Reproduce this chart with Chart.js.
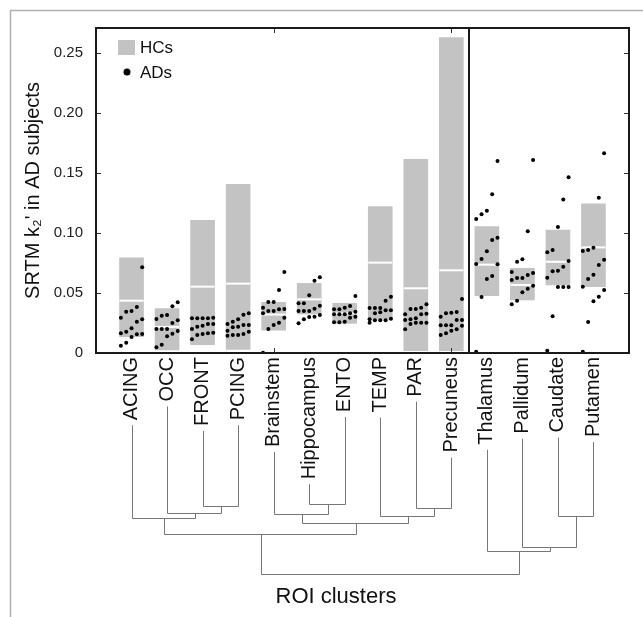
<!DOCTYPE html>
<html>
<head>
<meta charset="utf-8">
<script src="https://cdn.jsdelivr.net/npm/chart.js@4.4.1/dist/chart.umd.min.js"></script>
<style>
  html, body { margin: 0; padding: 0; background: #fff; }
</style>
</head>
<body>
<canvas id="chart" width="643" height="617"></canvas>
<script>
const categories = ['ACING', 'OCC', 'FRONT', 'PCING', 'Brainstem', 'Hippocampus', 'ENTO',
  'TEMP', 'PAR', 'Precuneus', 'Thalamus', 'Pallidum', 'Caudate', 'Putamen'];

// HC range (gray bars) and HC median (white line)
const hcLow = [0.0136, 0.0025, 0.007, 0.003, 0.019, 0.0325, 0.0247, 0.028, 0.002, 0.002, 0.0478, 0.0442, 0.0567, 0.0553];
const hcHigh = [0.0794, 0.037, 0.1106, 0.1406, 0.0422, 0.058, 0.0414, 0.122, 0.1614, 0.2628, 0.1053, 0.0706, 0.1025, 0.1242];
const hcMedian = [0.0436, 0.0217, 0.0553, 0.0578, 0.032, 0.0447, 0.033, 0.0753, 0.0539, 0.0689, 0.0736, 0.0567, 0.076, 0.088];

// AD subjects, per region, grouped in the 5 columns they are plotted in
const adValues = [
  [[0.0294, 0.0164, 0.0061], [0.0344, 0.0178, 0.0086], [0.035, 0.0206, 0.0133], [0.0383, 0.0261, 0.0156], [0.0714, 0.0281, 0.0158]],
  [[0.0283, 0.02, 0.0047], [0.0311, 0.02, 0.0069], [0.0317, 0.02, 0.0139], [0.0389, 0.025, 0.0161], [0.0422, 0.0272, 0.0183]],
  [[0.0289, 0.02, 0.0114], [0.0289, 0.0219, 0.015], [0.0289, 0.0228, 0.0158], [0.0289, 0.0242, 0.0164], [0.0294, 0.0242, 0.0169]],
  [[0.0242, 0.0186, 0.0144], [0.0261, 0.0214, 0.015], [0.0281, 0.0219, 0.015], [0.0319, 0.0233, 0.0158], [0.0331, 0.0233, 0.0178]],
  [[0.0378, 0.0331, 0.0003], [0.0425, 0.035, 0.02], [0.0425, 0.035, 0.0233], [0.0525, 0.0364, 0.0253], [0.0675, 0.0367, 0.0294]],
  [[0.0414, 0.035, 0.0247], [0.0414, 0.035, 0.0281], [0.0481, 0.035, 0.03], [0.0603, 0.0369, 0.0303], [0.0631, 0.0394, 0.0317]],
  [[0.0364, 0.0322, 0.0256], [0.0364, 0.0322, 0.0256], [0.0378, 0.0322, 0.0261], [0.0392, 0.0331, 0.0294], [0.0475, 0.0344, 0.0303]],
  [[0.0375, 0.0281, 0.0253], [0.0375, 0.0331, 0.0272], [0.0375, 0.0339, 0.0272], [0.0436, 0.0356, 0.0272], [0.0469, 0.0356, 0.0286]],
  [[0.0322, 0.0275, 0.0197], [0.0367, 0.0281, 0.0242], [0.0367, 0.0289, 0.0253], [0.0378, 0.0322, 0.0253], [0.0406, 0.0328, 0.0253]],
  [[0.0303, 0.0231, 0.015], [0.0331, 0.0231, 0.0164], [0.0336, 0.0231, 0.0186], [0.0342, 0.0275, 0.0197], [0.045, 0.0275, 0.0228]],
  [[0.1117, 0.0742, 0.0011], [0.1156, 0.0783, 0.0467], [0.1186, 0.0847, 0.0617], [0.1322, 0.0942, 0.0642], [0.16, 0.0961, 0.0739]],
  [[0.0675, 0.0608, 0.0406], [0.0761, 0.0625, 0.0436], [0.0781, 0.0625, 0.0506], [0.1014, 0.065, 0.0536], [0.1608, 0.0667, 0.0561]],
  [[0.0839, 0.0628, 0.0019], [0.0858, 0.0681, 0.0306], [0.105, 0.0686, 0.055], [0.128, 0.0719, 0.055], [0.1464, 0.0767, 0.055]],
  [[0.085, 0.0553, 0.0011], [0.0858, 0.0617, 0.0258], [0.0878, 0.0653, 0.0431], [0.1294, 0.0733, 0.0469], [0.1664, 0.0778, 0.0525]]
];

const yTicks = [0, 0.05, 0.10, 0.15, 0.20, 0.25];

// hierarchical clustering of the regions: [child a, child b, linkage distance]
// leaves are 0..13, merged clusters get ids 14, 15, ...
const linkage = [
  [2, 3, 0.19], [1, 14, 0.274], [0, 15, 0.333],
  [5, 6, 0.167], [4, 17, 0.286], [8, 9, 0.214], [7, 19, 0.31], [18, 20, 0.393],
  [16, 21, 0.524],
  [12, 13, 0.31], [11, 23, 0.679], [10, 24, 0.726],
  [22, 25, 1.0]
];

const FONT = "'Liberation Sans', Arial, sans-serif";
const columnOffsets = [-0.3, -0.15, 0, 0.15, 0.3];

const barData = categories.map((c, i) => ({ x: i, y: [hcLow[i], hcHigh[i]] }));
const medianData = categories.map((c, i) => ({ x: i, y: hcMedian[i] }));
const dotData = [];
adValues.forEach((cols, i) => {
  cols.forEach((vals, k) => {
    vals.forEach(v => dotData.push({ x: i + columnOffsets[k], y: v }));
  });
});

const extras = {
  id: 'extras',
  afterDraw(chart) {
    const { ctx, chartArea: a, scales: { x, y } } = chart;
    ctx.save();

    // outer figure border
    ctx.strokeStyle = '#b0b0b0';
    ctx.lineWidth = 1.5;
    ctx.beginPath();
    ctx.moveTo(10.5, 617); ctx.lineTo(10.5, 10.5); ctx.lineTo(643, 10.5);
    ctx.stroke();

    // inward ticks
    ctx.strokeStyle = '#333';
    ctx.lineWidth = 1;
    ctx.beginPath();
    yTicks.forEach(v => {
      const py = Math.round(y.getPixelForValue(v)) + 0.5;
      ctx.moveTo(a.left, py); ctx.lineTo(a.left + 5, py);
      ctx.moveTo(a.right - 5, py); ctx.lineTo(a.right, py);
    });
    [4, 9].forEach(i => {
      const px = Math.round(x.getPixelForValue(i)) + 0.5;
      ctx.moveTo(px, a.bottom); ctx.lineTo(px, a.bottom - 5);
      ctx.moveTo(px, a.top); ctx.lineTo(px, a.top + 5);
    });
    ctx.stroke();

    // frame and separator between cortical and subcortical regions
    ctx.strokeStyle = '#1a1a1a';
    ctx.lineWidth = 2;
    ctx.strokeRect(a.left, a.top, a.right - a.left, a.bottom - a.top);
    const sx = Math.round(x.getPixelForValue(9.5));
    ctx.beginPath();
    ctx.moveTo(sx, a.top); ctx.lineTo(sx, a.bottom);
    ctx.stroke();

    // legend
    ctx.fillStyle = '#c3c3c3';
    ctx.fillRect(a.left + 22, a.top + 12, 17, 15);
    ctx.fillStyle = '#000';
    ctx.beginPath();
    ctx.arc(a.left + 31, a.top + 44, 3.5, 0, Math.PI * 2);
    ctx.fill();
    ctx.fillStyle = '#111';
    ctx.font = '17px ' + FONT;
    ctx.textBaseline = 'middle';
    ctx.textAlign = 'left';
    ctx.fillText('HCs', a.left + 44, a.top + 20);
    ctx.fillText('ADs', a.left + 44, a.top + 45);

    // dendrogram below the labels
    ctx.font = '20px ' + FONT;
    const nodeX = categories.map((c, i) => Math.round(x.getPixelForValue(i)) + 0.5);
    const nodeY = categories.map(c => a.bottom + 4 + ctx.measureText(c).width + 5);
    const dz = a.bottom + 137, ds = 84;
    ctx.strokeStyle = '#777';
    ctx.lineWidth = 1;
    ctx.beginPath();
    linkage.forEach(([p, q, d]) => {
      const yy = Math.round(dz + d * ds) + 0.5;
      ctx.moveTo(nodeX[p], nodeY[p]); ctx.lineTo(nodeX[p], yy);
      ctx.lineTo(nodeX[q], yy); ctx.lineTo(nodeX[q], nodeY[q]);
      nodeX.push(Math.round((nodeX[p] + nodeX[q]) / 2) + 0.5);
      nodeY.push(yy);
    });
    ctx.stroke();

    ctx.fillStyle = '#111';
    ctx.font = '22px ' + FONT;
    ctx.textAlign = 'center';
    ctx.fillText('ROI clusters', 336, 597);
    ctx.restore();
  }
};

new Chart(document.getElementById('chart'), {
  type: 'bar',
  data: {
    datasets: [
      {
        type: 'scatter',
        data: dotData,
        pointRadius: 2,
        pointBackgroundColor: '#000',
        pointBorderWidth: 0,
        order: 0
      },
      {
        type: 'scatter',
        data: medianData,
        pointStyle: 'line',
        pointRadius: 12,
        pointBorderWidth: 2,
        pointBorderColor: '#fff',
        order: 1
      },
      {
        type: 'bar',
        data: barData,
        backgroundColor: '#c3c3c3',
        borderWidth: 0,
        barThickness: 24,
        order: 2
      }
    ]
  },
  options: {
    responsive: false,
    animation: false,
    events: [],
    layout: { padding: { top: 28, right: 13, bottom: 0, left: 0 } },
    plugins: { legend: { display: false }, tooltip: { enabled: false } },
    scales: {
      x: {
        type: 'linear',
        min: -1,
        max: 14,
        offset: false,
        grid: { display: false, drawTicks: false },
        border: { display: false },
        afterBuildTicks: s => { s.ticks = categories.map((c, i) => ({ value: i })); },
        afterFit: s => { s.height = 264; },
        ticks: {
          autoSkip: false,
          minRotation: 90,
          maxRotation: 90,
          padding: 4,
          color: '#111',
          font: { family: FONT, size: 20 },
          callback: v => categories[v]
        }
      },
      y: {
        min: 0,
        max: 0.2708,
        grid: { display: false, drawTicks: false },
        border: { display: false },
        afterBuildTicks: s => { s.ticks = yTicks.map(v => ({ value: v })); },
        afterFit: s => { s.width = 96; },
        ticks: {
          padding: 13,
          color: '#222',
          font: { family: FONT, size: 15 },
          callback: v => (v === 0 ? '0' : v.toFixed(2))
        },
        title: {
          display: true,
          text: "SRTM k\u2082' in AD subjects",
          color: '#111',
          font: { family: FONT, size: 20 },
          padding: { top: 21, bottom: 0 }
        }
      }
    }
  },
  plugins: [extras]
});
</script>
</body>
</html>
